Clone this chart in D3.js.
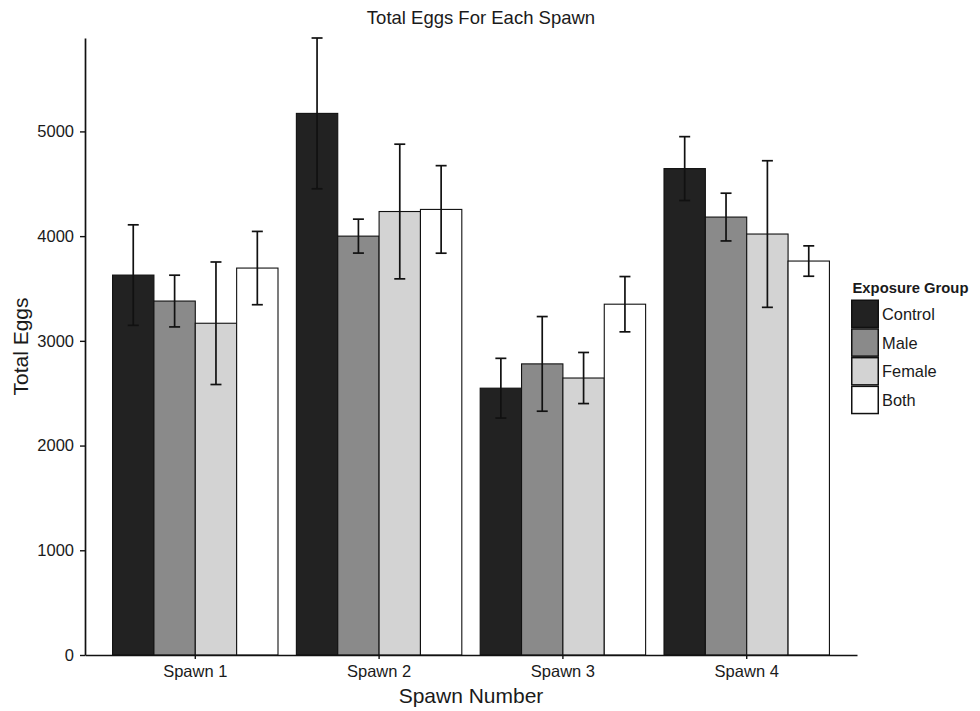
<!DOCTYPE html>
<html lang="en">
<head>
<meta charset="UTF-8">
<title>Total Eggs For Each Spawn</title>
<script src="https://d3js.org/d3.v7.min.js"></script>
<style>
  body { margin: 0; background: #fff; }
  text { font-family: "Liberation Sans", Arial, Helvetica, sans-serif; fill: #1a1a1a; }
</style>
</head>
<body>
<div id="chart"></div>
<script>
  const spawns = ['Spawn 1', 'Spawn 2', 'Spawn 3', 'Spawn 4'];
  const groups = ['Control', 'Male', 'Female', 'Both'];
  const groupColors = ['#222222', '#8a8a8a', '#d3d3d3', '#ffffff'];

  // mean total eggs, one array per exposure group (Spawn 1..4)
  const controlMean = [3628, 5172, 2548, 4645];
  const maleMean = [3380, 4000, 2780, 4182];
  const femaleMean = [3168, 4235, 2645, 4020];
  const bothMean = [3695, 4255, 3350, 3762];

  // error bar half widths
  const controlErr = [480, 720, 285, 305];
  const maleErr = [247, 162, 452, 228];
  const femaleErr = [585, 643, 244, 700];
  const bothErr = [350, 418, 264, 145];

  const yTicks = [0, 1000, 2000, 3000, 4000, 5000];

  const means = [controlMean, maleMean, femaleMean, bothMean];
  const errs = [controlErr, maleErr, femaleErr, bothErr];

  const width = 980, height = 711;
  const plot = { left: 85, right: 857, top: 38, bottom: 655 };

  const svg = d3.select('#chart').append('svg')
    .attr('width', width)
    .attr('height', height);

  const rows = [];
  spawns.forEach((s, i) => {
    groups.forEach((g, j) => {
      rows.push({ spawn: s, group: g, mean: means[j][i], err: errs[j][i] });
    });
  });

  const yMax = d3.max(rows, d => d.mean + d.err);

  const x = d3.scaleBand()
    .domain(spawns)
    .range([plot.left, plot.right])
    .paddingInner(0.1)
    .paddingOuter(0.15);

  const xg = d3.scaleBand()
    .domain(groups)
    .range([0, x.bandwidth()])
    .padding(0);

  const y = d3.scaleLinear()
    .domain([0, yMax])
    .range([plot.bottom, plot.top]);

  const color = d3.scaleOrdinal().domain(groups).range(groupColors);

  // bars
  svg.append('g').selectAll('rect')
    .data(rows)
    .enter().append('rect')
    .attr('x', d => x(d.spawn) + xg(d.group))
    .attr('y', d => y(d.mean))
    .attr('width', xg.bandwidth())
    .attr('height', d => y(0) - y(d.mean))
    .attr('fill', d => color(d.group))
    .attr('stroke', '#111')
    .attr('stroke-width', 1.1);

  // error bars
  const cap = 5.5;
  const eb = svg.append('g').attr('stroke', '#111').attr('stroke-width', 1.7);
  rows.forEach(d => {
    const cx = x(d.spawn) + xg(d.group) + xg.bandwidth() / 2;
    const y1 = y(d.mean + d.err), y2 = y(d.mean - d.err);
    eb.append('line').attr('x1', cx).attr('x2', cx).attr('y1', y1).attr('y2', y2);
    eb.append('line').attr('x1', cx - cap).attr('x2', cx + cap).attr('y1', y1).attr('y2', y1);
    eb.append('line').attr('x1', cx - cap).attr('x2', cx + cap).attr('y1', y2).attr('y2', y2);
  });

  // axes
  const yAxis = svg.append('g')
    .attr('transform', `translate(${plot.left},0)`)
    .call(d3.axisLeft(y).tickValues(yTicks).tickFormat(d3.format('d'))
      .tickSize(5).tickPadding(6).tickSizeOuter(0));
  const xAxis = svg.append('g')
    .attr('transform', `translate(0,${plot.bottom})`)
    .call(d3.axisBottom(x).tickSize(4).tickPadding(6).tickSizeOuter(0));

  [yAxis, xAxis].forEach(a => {
    a.attr('font-size', null).attr('font-family', null);
    a.select('.domain').attr('stroke', '#111').attr('stroke-width', 1.7);
    a.selectAll('.tick line').attr('stroke', '#111').attr('stroke-width', 1.4);
    a.selectAll('.tick text').style('font-size', '16.5px').style('fill', '#1a1a1a');
  });

  // titles
  svg.append('text')
    .attr('x', 481).attr('y', 24)
    .attr('text-anchor', 'middle')
    .style('font-size', '18.5px')
    .text('Total Eggs For Each Spawn');

  svg.append('text')
    .attr('x', (plot.left + plot.right) / 2).attr('y', 703)
    .attr('text-anchor', 'middle')
    .style('font-size', '21px')
    .text('Spawn Number');

  svg.append('text')
    .attr('transform', `translate(28,${(plot.top + plot.bottom) / 2}) rotate(-90)`)
    .attr('text-anchor', 'middle')
    .style('font-size', '21px')
    .text('Total Eggs');

  // legend
  const legend = svg.append('g').attr('transform', 'translate(851,299.5)');
  legend.append('text')
    .attr('x', 1.5).attr('y', -7)
    .style('font-size', '14.8px')
    .attr('font-weight', 'bold')
    .text('Exposure Group');
  const key = 28.7;
  groups.forEach((g, i) => {
    legend.append('rect')
      .attr('x', 0.75).attr('y', i * key + 0.75)
      .attr('width', 26.5).attr('height', key - 1.5)
      .attr('fill', color(g))
      .attr('stroke', '#111').attr('stroke-width', 1.5);
    legend.append('text')
      .attr('x', 31).attr('y', i * key + key / 2 + 6)
      .style('font-size', '16.4px')
      .text(g);
  });
</script>
</body>
</html>
